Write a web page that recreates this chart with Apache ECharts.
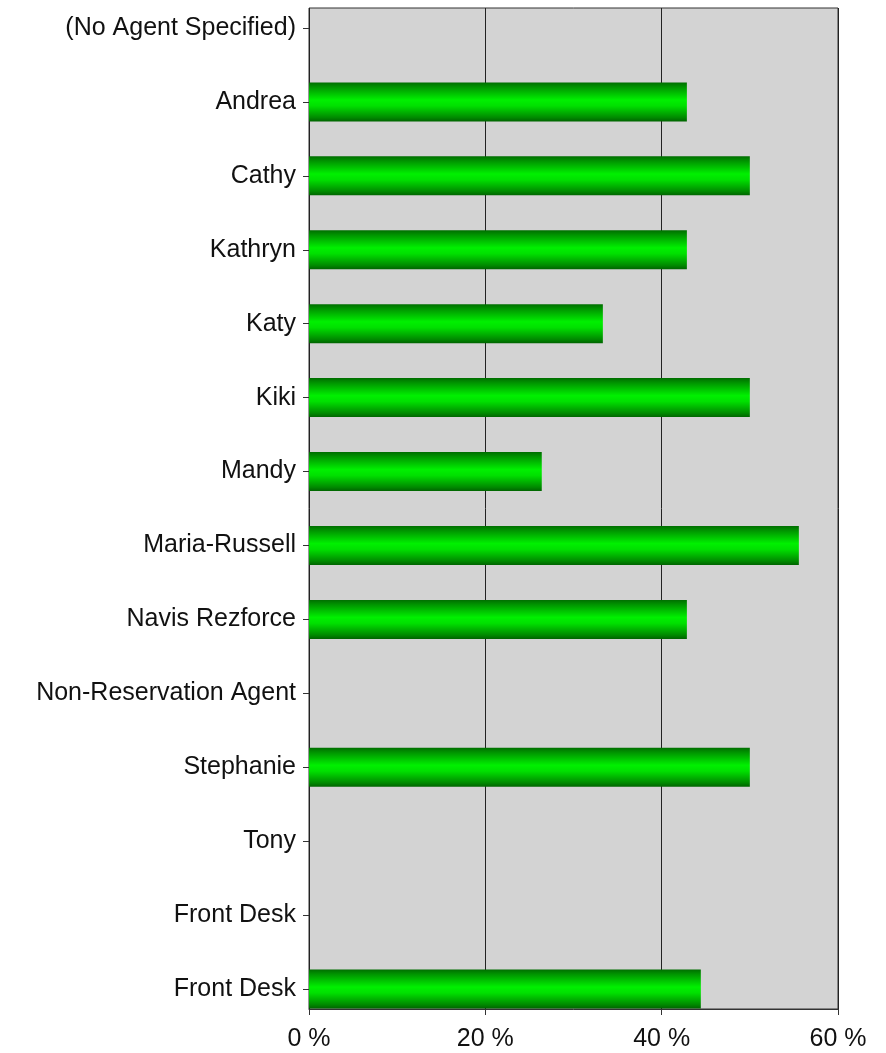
<!DOCTYPE html>
<html>
<head>
<meta charset="utf-8">
<script src="https://cdn.jsdelivr.net/npm/echarts@6/dist/echarts.min.js"></script>
<style>
html,body{margin:0;padding:0;background:#fff;}
#chart{width:886px;height:1053px;}
</style>
</head>
<body>
<div id="chart"></div>
<script>
const categories = ['(No Agent Specified)','Andrea','Cathy','Kathryn','Katy','Kiki','Mandy','Maria-Russell','Navis Rezforce','Non-Reservation Agent','Stephanie','Tony','Front Desk','Front Desk'];
const values = [null, 42.86, 50, 42.86, 33.33, 50, 26.4, 55.56, 42.86, null, 50, null, null, 44.44];
const xTicks = [0, 20, 40, 60];

const FONT = 'Liberation Sans, Arial, sans-serif';
const chart = echarts.init(document.getElementById('chart'), null, {renderer:'canvas'});
const barGrad = new echarts.graphic.LinearGradient(0,0,0,1,[
  {offset:0, color:'#006e00'},
  {offset:0.12, color:'#009400'},
  {offset:0.45, color:'#00f000'},
  {offset:0.6, color:'#00e000'},
  {offset:0.9, color:'#008a00'},
  {offset:1, color:'#006400'}
]);
chart.setOption({
  animation:false,
  backgroundColor:'#ffffff',
  grid:[
    {left:309, right:48, top:8, bottom:44, show:true, backgroundColor:'#d3d3d3', borderColor:'#333333', borderWidth:1},
    {left:309, right:48, top:28, bottom:64, show:false}
  ],
  xAxis:[
    {gridIndex:0, type:'value', min:xTicks[0], max:xTicks[xTicks.length-1], interval:xTicks[1]-xTicks[0],
     axisLine:{show:true, lineStyle:{color:'#333333', width:1}},
     axisTick:{show:true, length:6, lineStyle:{color:'#333333'}},
     axisLabel:{formatter:v=>v+' %', fontSize:25, color:'#111', fontFamily:FONT, margin:18},
     splitLine:{show:true, lineStyle:{color:'#222222', width:1}}},
    {gridIndex:1, type:'value', min:xTicks[0], max:xTicks[xTicks.length-1], show:false}
  ],
  yAxis:[
    {gridIndex:0, type:'value', min:0, max:1, show:false},
    {gridIndex:1, type:'category', data:categories, inverse:true, boundaryGap:false,
     axisLine:{show:false},
     axisTick:{show:true, length:6, lineStyle:{color:'#333333'}},
     axisLabel:{fontSize:25, color:'#111', fontFamily:FONT, margin:13, interval:0},
     splitLine:{show:false}}
  ],
  series:[{
    type:'bar', xAxisIndex:1, yAxisIndex:1, data:values, barWidth:39, clip:false,
    itemStyle:{color:barGrad}
  }]
});
</script>
</body>
</html>
